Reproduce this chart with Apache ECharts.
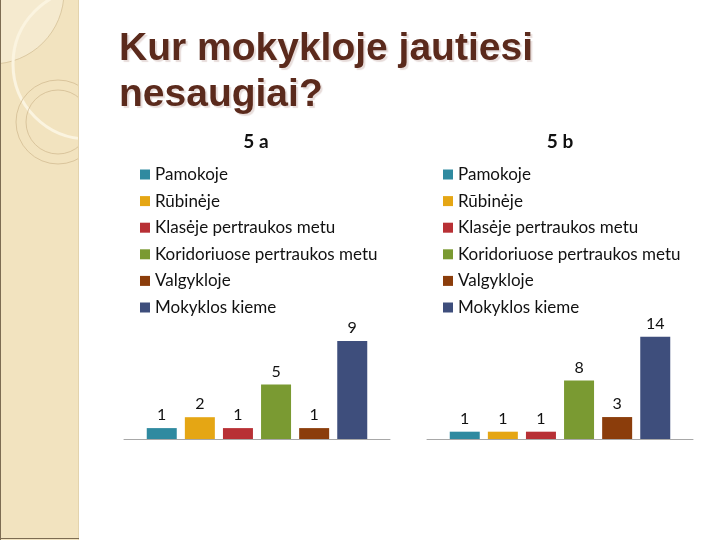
<!DOCTYPE html>
<html>
<head>
<meta charset="utf-8">
<script src="https://cdn.jsdelivr.net/npm/echarts@6/dist/echarts.min.js"></script>
<style>
  html, body { margin: 0; padding: 0; background: #fff; }
  #chart { width: 720px; height: 540px; }
</style>
</head>
<body>
<div id="chart"></div>
<script>
// places where pupils feel unsafe
const places = [
  "Pamokoje",
  "Rūbinėje",
  "Klasėje pertraukos metu",
  "Koridoriuose pertraukos metu",
  "Valgykloje",
  "Mokyklos kieme",
];
const class5a = [1, 2, 1, 5, 1, 9];
const class5b = [1, 1, 1, 8, 3, 14];
const classNames = ["5 a", "5 b"];

const palette = ["#2f8aa0", "#e5a614", "#b83035", "#7a9a32", "#8b3d0b", "#3e4e7c"];
const gill = "Lato, 'Open Sans', sans-serif";

const chart = echarts.init(document.getElementById("chart"));

function barSeries(values, idx) {
  return places.map((name, i) => ({
    type: "bar",
    name,
    xAxisIndex: idx,
    yAxisIndex: idx,
    data: [values[i]],
    barWidth: 30,
    barGap: "27%",
    itemStyle: { color: palette[i] },
    label: {
      show: true,
      position: "top",
      distance: 5,
      color: "#111",
      fontFamily: gill,
      fontSize: 16,
    },
    silent: true,
  }));
}

function legendAt(left) {
  return {
    orient: "vertical",
    left,
    top: 161,
    itemWidth: 10,
    itemHeight: 10,
    itemGap: 9.6,
    icon: "rect",
    selectedMode: false,
    data: places,
    textStyle: { fontFamily: gill, fontSize: 17, color: "#111", lineHeight: 17 },
  };
}

const axisLine = { show: true, lineStyle: { color: "#a8a8a8", width: 1 } };

chart.setOption({
  animation: false,
  color: palette,
  title: {
    text: "Kur mokykloje jautiesi\nnesaugiai?",
    left: 114,
    top: 21,
    textStyle: {
      fontFamily: "'Liberation Sans', Arial, sans-serif",
      fontWeight: "bold",
      fontSize: 39,
      lineHeight: 46,
      color: "#5b2a1c",
      textShadowColor: "rgba(120,60,50,0.18)",
      textShadowOffsetX: 2,
      textShadowOffsetY: 2,
      textShadowBlur: 1,
    },
  },
  legend: [legendAt(135), legendAt(438)],
  grid: [
    { left: 124, width: 266, top: 330, height: 109 },
    { left: 427, width: 266, top: 322, height: 117 },
  ],
  xAxis: [0, 1].map((g) => ({
    type: "category",
    gridIndex: g,
    data: [""],
    axisLine,
    axisTick: { show: false },
    axisLabel: { show: false },
  })),
  yAxis: [
    { type: "value", gridIndex: 0, min: 0, max: 10, show: false, splitLine: { show: false } },
    { type: "value", gridIndex: 1, min: 0, max: 16, show: false, splitLine: { show: false } },
  ],
  series: [...barSeries(class5a, 0), ...barSeries(class5b, 1)],
  graphic: [
    { type: "rect", z: -10, shape: { x: 0, y: 0, width: 79, height: 540 }, style: { fill: "#f2e3bf" } },
    { type: "circle", z: -9, shape: { cx: -8, cy: -8, r: 72 }, style: { fill: "rgba(255,255,255,0.25)", stroke: "#d6c298", lineWidth: 0.8 } },
    { type: "circle", z: -9, shape: { cx: 88, cy: 64, r: 75 }, style: { fill: "none", stroke: "#fbf4e0", lineWidth: 3 } },
    { type: "circle", z: -9, shape: { cx: 58, cy: 122, r: 42 }, style: { fill: "none", stroke: "#d3bd93", lineWidth: 0.8 } },
    { type: "circle", z: -9, shape: { cx: 58, cy: 122, r: 32 }, style: { fill: "none", stroke: "#d3bd93", lineWidth: 0.8 } },
    { type: "rect", z: -8, shape: { x: 79, y: 0, width: 641, height: 540 }, style: { fill: "#ffffff" } },
    { type: "line", z: -7, shape: { x1: 78.5, y1: 0, x2: 78.5, y2: 540 }, style: { stroke: "#e3d3ad", lineWidth: 1 } },
    { type: "line", z: -7, shape: { x1: 0.5, y1: 0, x2: 0.5, y2: 540 }, style: { stroke: "#7d6c52", lineWidth: 1 } },
    { type: "line", z: -7, shape: { x1: 0, y1: 538.5, x2: 79, y2: 538.5 }, style: { stroke: "#7d6c52", lineWidth: 1 } },
    {
      type: "text", z: 10, x: 256, y: 142,
      style: { text: classNames[0], textAlign: "center", textVerticalAlign: "middle", font: "bold 19px " + gill, fill: "#111" },
    },
    {
      type: "text", z: 10, x: 560, y: 142,
      style: { text: classNames[1], textAlign: "center", textVerticalAlign: "middle", font: "bold 19px " + gill, fill: "#111" },
    },
  ],
});
</script>
</body>
</html>
